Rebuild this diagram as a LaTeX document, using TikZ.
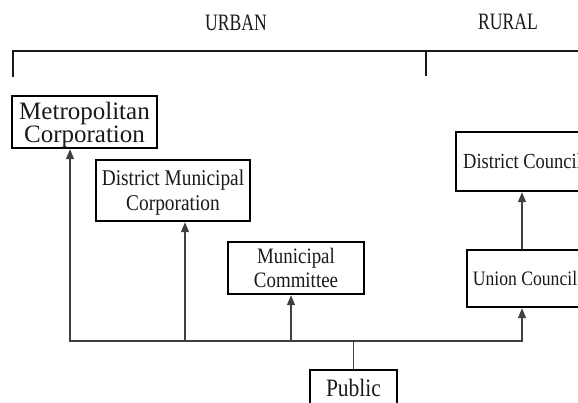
\documentclass[tikz,border=0pt]{standalone}
\usepackage{fontspec}
\setmainfont{Liberation Serif}
\newfontfamily\condfont[FakeStretch=0.86]{Liberation Serif}
\newfontfamily\capfont[FakeStretch=0.75]{Liberation Serif}
\usetikzlibrary{arrows.meta}
\begin{document}
\begin{tikzpicture}[x=1pt,y=-1pt,
  box/.style={draw=black, line width=2.4pt, inner sep=0pt, align=center, text depth=0pt, text=black!90},
  conn/.style={draw=black!75, line width=1.3pt, line cap=rect},
  arr/.style={conn, line cap=butt, -{Triangle[length=10pt,width=8pt]}},
  bracket/.style={draw=black!90, line width=2.4pt},
  lbl/.style={inner sep=0pt, text=black!90, font=\capfont\fontsize{23.5}{24}\selectfont}]
\useasboundingbox (0,0) rectangle (578,402);
\clip (0,0) rectangle (578,402);
% header
\node[lbl] (urban) at (236,23) {URBAN};
\node[lbl] (rural) at (508,22) {RURAL};
\coordinate (bl) at (13,77);
\coordinate (bt) at (13,51);
\coordinate (br) at (600,51);
\coordinate (mt) at (426,51);
\coordinate (mb) at (426,76);
\draw[bracket] (bl) -- (bt) -- (br);
\draw[bracket] (mt) -- (mb);
% boxes
\node[box, minimum width=145pt, minimum height=52pt, font=\fontsize{25}{23}\selectfont] (metro) at (84.5,122) {Metropolitan\\Corporation};
\node[box, minimum width=154pt, minimum height=61pt, font=\condfont\fontsize{22.5}{25}\selectfont] (dmc) at (173,190.5) {District Municipal\\Corporation};
\node[box, minimum width=136pt, minimum height=52pt, font=\condfont\fontsize{22}{24}\selectfont] (mc) at (296,268) {Municipal\\Committee};
\node[box, minimum width=87pt, minimum height=36pt, font=\condfont\fontsize{25}{25}\selectfont] (pub) at (353.5,388) {Public};
\node[box, minimum width=133pt, minimum height=59pt, font=\condfont\fontsize{21.5}{24}\selectfont] (dc) at (522.5,161.5) {District Council};
\node[box, minimum width=116pt, minimum height=57pt, font=\condfont\fontsize{20.5}{24}\selectfont] (uc) at (525,278.5) {Union Council};
% connectors
\coordinate (b1) at (70,341);
\coordinate (b2) at (185,341);
\coordinate (b3) at (291,341);
\coordinate (b4) at (522,341);
\draw[conn] (b1) -- (b4);
\draw[arr] (b1) -- (b1 |- metro.south);
\draw[arr] (b2) -- (b2 |- dmc.south);
\draw[arr] (b3) -- (b3 |- mc.south);
\draw[arr] (b4) -- (b4 |- uc.south);
\draw[arr] (uc.north -| b4) -- (dc.south -| b4);
\draw[conn] (pub.north) -- (pub.north |- b1);
\end{tikzpicture}
\end{document}
